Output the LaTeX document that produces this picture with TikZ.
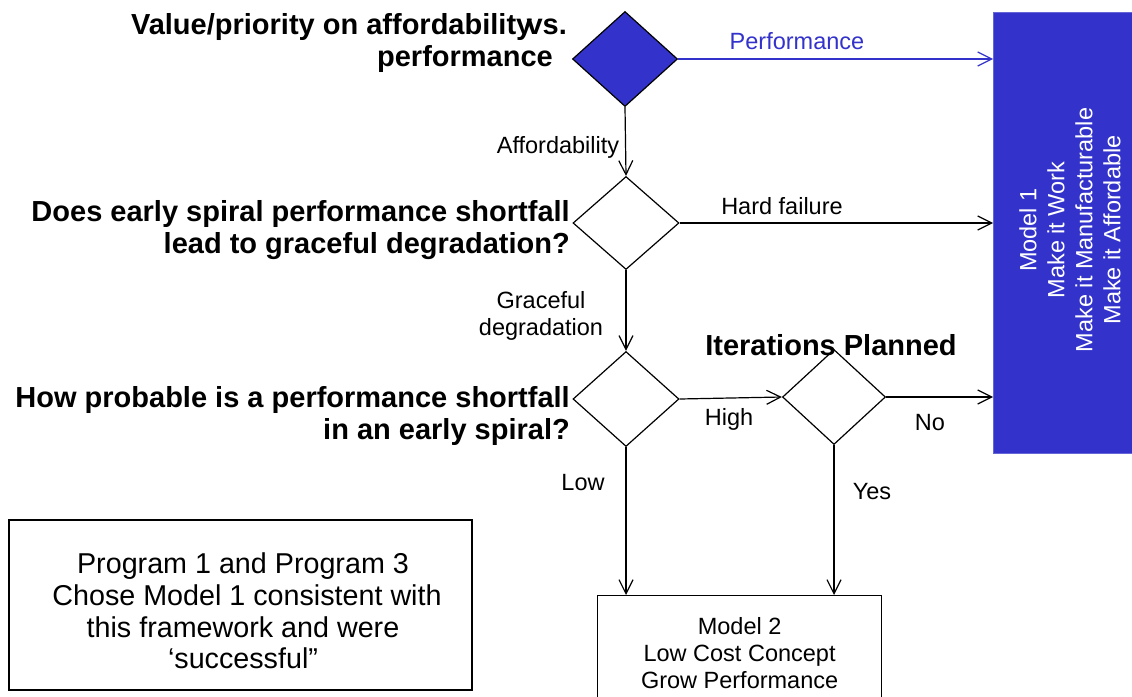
\documentclass[tikz,border=0pt]{standalone}
\usepackage{fontspec}
\setmainfont{Liberation Sans}
\usetikzlibrary{shapes.geometric,arrows.meta}
\definecolor{mblue}{HTML}{3333CC}
\begin{document}
\begin{tikzpicture}[x=1pt,y=-1pt,
  dia/.style={draw=black,line width=1.2pt,shape=diamond,inner sep=0pt,minimum width=105pt,minimum height=95pt},
  conn/.style={line width=1.2pt,-{Straight Barb[length=14pt,width=14pt,line width=1.2pt]}},
  lbl/.style={font=\fontsize{23.5}{27}\selectfont,inner sep=0pt,align=center},
  quest/.style={font=\bfseries\fontsize{29}{32}\selectfont,inner sep=0pt,align=right,anchor=east},
  plainbox/.style={draw=black,line width=1.2pt,fill=white,inner sep=0pt}
]
\useasboundingbox[fill=white] (0,0) rectangle (1132,696);

% Model 1 box
\node[fill=mblue,draw=mblue!75!white,line width=0.8pt,minimum width=141pt,minimum height=441pt,anchor=north west,inner sep=0pt] (m1) at (993,12) {};
\node[lbl,text=white,rotate=90,font=\fontsize{23.5}{28}\selectfont] (m1t) at (1070,230) {Model 1\\Make it Work\\Make it Manufacturable\\Make it Affordable};

% Model 2 box
\node[plainbox,minimum width=284pt,minimum height=114pt,anchor=north west,lbl] (m2) at (597,595) {Model 2\\Low Cost Concept\\Grow Performance};

% Left note box
\node[plainbox,minimum width=463pt,minimum height=170pt] (note) at (240.5,605) {};
\node[font=\fontsize{28.7}{31.7}\selectfont,align=center,inner sep=0pt] (notetext) at (243,611) {Program 1 and Program 3\\\ Chose Model 1 consistent with\\this framework and were\\‘successful”};

% Diamonds
\node[dia,fill=mblue] (d1) at (625,59) {};
\node[dia,minimum width=106pt,minimum height=93pt] (d2) at (626,223) {};
\node[dia,minimum width=106pt] (d3) at (626,399) {};
\node[dia,minimum width=103pt] (d4) at (834,397) {};

% Questions
\node[quest] (q1) at (553,43.5) {Value/priority on affordability\kern-0.2em vs.\kern-14pt\\performance};
\node[quest] (q2) at (570,230) {Does early spiral performance shortfall\\lead to graceful degradation?};
\node[quest] (q3) at (570,415.5) {How probable is a performance shortfall\\in an early spiral?};
\node[font=\bfseries\fontsize{29}{32}\selectfont,inner sep=0pt] (q4) at (831,345) {Iterations Planned};

% Connectors
\draw[conn,draw=mblue] (d1.east) -- (d1.east -| m1.west);
\draw[conn] (d1.south) -- (d2.north);
\draw[conn] (d2.east) -- (d2.east -| m1.west);
\draw[conn] (d2.south) -- (d3.north);
\draw[conn] (d3.east) -- (d4.west);
\draw[conn] (d4.east) -- (d4.east -| m1.west);
\draw[conn] (d3.south) -- (d3.south |- m2.north);
\draw[conn] (d4.south) -- (d4.south |- m2.north);

% Labels
\node[lbl,text=mblue] (lperf) at (797,41) {Performance};
\node[lbl] (laff) at (558,147) {Affordability};
\node[lbl] (lhard) at (782,206) {Hard failure};
\node[lbl] (lgrace) at (541,315.5) {Graceful\\degradation};
\node[lbl] (lhigh) at (729,419) {High};
\node[lbl] (lno) at (930,423) {No};
\node[lbl] (llow) at (583,483) {Low};
\node[lbl] (lyes) at (872,492) {Yes};
\end{tikzpicture}
\end{document}
